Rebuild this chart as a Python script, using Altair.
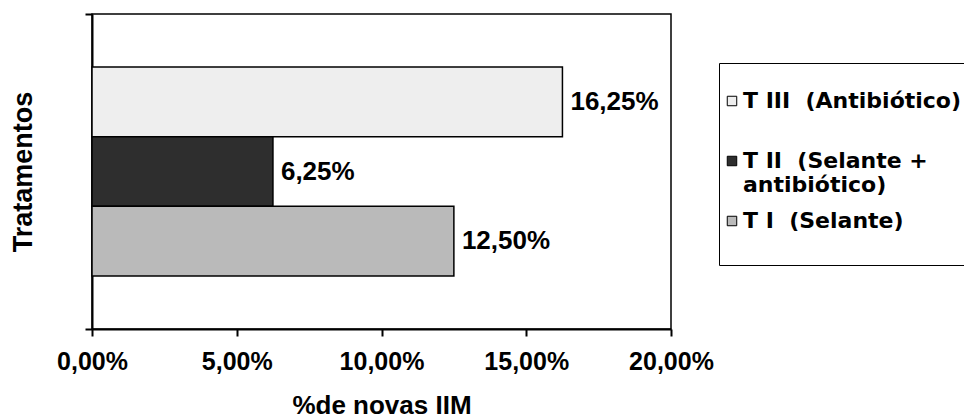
import altair as alt
import pandas as pd

# Percent of new intramammary infections (IIM) per treatment
tratamentos = ["T III\u00a0 (Antibiótico)", "T II\u00a0 (Selante + antibiótico)", "T I\u00a0 (Selante)"]
valores = [16.25, 6.25, 12.50]
cores = ["#eeeeee", "#2e2e2e", "#bababa"]
x_ticks = [0, 5, 10, 15, 20]

FONT = "Liberation Sans"
LEGEND_FONT = "DejaVu Sans"

df = pd.DataFrame({"tratamento": tratamentos, "valor": valores})
df_edges = pd.DataFrame({"pos": [0, 1]})

pct_expr = "replace(format(datum.value, '.2f'), '.', ',') + '%'"

# Legend labels: break after "+", every entry kept two lines tall
legend_label_expr = (
    "indexof(datum.label, '+') >= 0"
    " ? split(replace(datum.label, '+ ', '+\\n'), '\\n')"
    " : [datum.label, ' ']"
)

x_enc = alt.X(
    "valor:Q",
    scale=alt.Scale(domain=[0, 20], nice=False, zero=True),
    axis=alt.Axis(
        values=x_ticks,
        labelExpr=pct_expr,
        labelFlush=False,
        title="%de novas IIM",
        grid=False,
        tickSize=7,
        tickWidth=2,
        tickColor="black",
        domainColor="black",
        domainWidth=2,
        labelFont=FONT,
        labelFontSize=25,
        labelFontWeight="bold",
        labelColor="black",
        labelPadding=13,
        titleFont=FONT,
        titleFontSize=26,
        titleFontWeight="bold",
        titleColor="black",
        titlePadding=18,
    ),
)

y_band = alt.Y(
    "tratamento:N",
    sort=tratamentos,
    scale=alt.Scale(type="band", domain=tratamentos, paddingInner=0, paddingOuter=0.76),
    axis=None,
)

bars = alt.Chart(df).mark_bar(stroke="black", strokeWidth=1.5).encode(
    x=x_enc,
    y=y_band,
    fill=alt.Fill(
        "tratamento:N",
        scale=alt.Scale(domain=tratamentos, range=cores),
        legend=alt.Legend(
            orient="none",
            legendX=627,
            legendY=49,
            title=" ",
            titleFontSize=8,
            titlePadding=10,
            direction="vertical",
            symbolType="square",
            symbolSize=90,
            symbolStrokeColor="black",
            symbolStrokeWidth=1,
            symbolOffset=-7,
            labelExpr=legend_label_expr,
            labelFont=LEGEND_FONT,
            labelFontSize=22,
            labelFontWeight="bold",
            labelColor="black",
            labelLimit=600,
            labelOffset=0,
            gridAlign="all",
            rowPadding=14,
            padding=9,
            strokeColor="black",
            fillColor="white",
        ),
    ),
)

labels = alt.Chart(df).mark_text(
    align="left", baseline="middle", dx=8, font=FONT, fontSize=26,
    fontWeight="bold", color="black",
).encode(
    x=alt.X("valor:Q"),
    y=y_band,
    text=alt.Text("rotulo:N"),
).transform_calculate(
    rotulo="replace(format(datum.valor, '.2f'), '.', ',') + '%'"
)

edges = alt.Chart(df_edges).mark_point(opacity=0).encode(
    y=alt.Y(
        "pos:Q",
        scale=alt.Scale(domain=[0, 1], nice=False, zero=False),
        axis=alt.Axis(
            orient="left",
            values=[0, 1],
            labels=False,
            grid=False,
            tickSize=7,
            tickWidth=2,
            tickColor="black",
            domainColor="black",
            domainWidth=2,
            title="Tratamentos",
            titleFont=FONT,
            titleFontSize=27,
            titleFontWeight="bold",
            titleColor="black",
            titlePadding=47,
        ),
    ),
)

chart = (
    alt.layer(alt.layer(bars, labels), edges)
    .resolve_scale(y="independent")
    .properties(
        width=579,
        height=315,
        autosize=alt.AutoSizeParams(type="none"),
        padding={"left": 92, "top": 14, "right": 293, "bottom": 91},
        background="white",
    )
    .configure_view(stroke="black", strokeWidth=1.5)
)

chart.save("out.html", embed_options={"renderer": "svg", "actions": False})
